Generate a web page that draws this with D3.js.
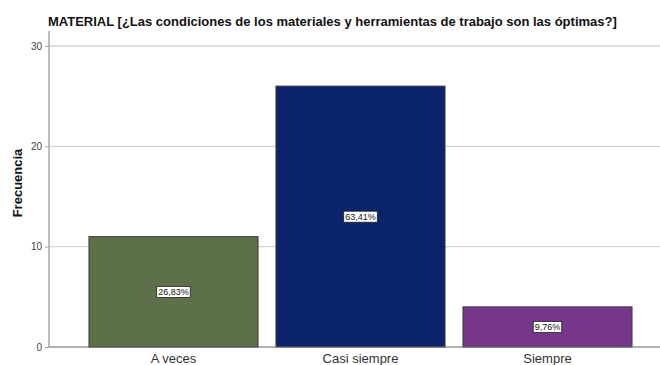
<!DOCTYPE html>
<html>
<head>
<meta charset="utf-8">
<script src="https://cdn.jsdelivr.net/npm/d3@7"></script>
<style>
  html, body { margin: 0; padding: 0; background: #fff; }
  svg { display: block; font-family: "Liberation Sans", Arial, sans-serif; }
</style>
</head>
<body>
<svg id="chart" width="660" height="365"></svg>
<script>
// Frequency table for the MATERIAL question
const categories = ["A veces", "Casi siempre", "Siempre"];
const frequencies = [11, 26, 4];
const percentLabels = ["26,83%", "63,41%", "9,76%"];
const barColors = ["#5e7049", "#0a236b", "#76378b"];
const yTicks = [0, 10, 20, 30];
const title = "MATERIAL [¿Las condiciones de los materiales y herramientas de trabajo son las óptimas?]";
const yTitle = "Frecuencia";

const svg = d3.select("#chart");
const axisX = 49, plotTop = 31, baseY = 347, plotRight = 660;

const y = d3.scaleLinear().domain([0, 30]).range([baseY, 46]);
const x = d3.scaleBand().domain(categories).range([80, 641])
  .paddingInner(0.096).paddingOuter(0.048);

// gridlines
svg.append("g").selectAll("line").data(yTicks.filter(t => t > 0)).join("line")
  .attr("x1", axisX).attr("x2", plotRight)
  .attr("y1", d => y(d)).attr("y2", d => y(d))
  .attr("stroke", "#d4d4d4").attr("stroke-width", 1.3);

// y axis with ticks
const yAxis = d3.axisLeft(y).tickValues(yTicks).tickSize(4).tickPadding(3);
const ya = svg.append("g").attr("transform", `translate(${axisX},0)`).call(yAxis);
ya.select(".domain").remove();
ya.selectAll(".tick line").attr("stroke", "#aaa");
ya.selectAll(".tick text").attr("fill", "#444").style("font-size", "10px")
  .style("font-family", "'Liberation Sans', Arial, sans-serif");
svg.append("line").attr("x1", axisX).attr("x2", axisX)
  .attr("y1", plotTop).attr("y2", baseY)
  .attr("stroke", "#a8a8a8").attr("stroke-width", 1.5);

// bars
const data = categories.map((c, i) => ({ c, v: frequencies[i], p: percentLabels[i], col: barColors[i] }));
svg.append("g").selectAll("rect").data(data).join("rect")
  .attr("x", d => x(d.c)).attr("width", x.bandwidth())
  .attr("y", d => y(d.v)).attr("height", d => y(0) - y(d.v))
  .attr("fill", d => d.col).attr("stroke", "#3a3a3a").attr("stroke-width", 1);

// baseline
svg.append("line").attr("x1", axisX).attr("x2", plotRight)
  .attr("y1", baseY).attr("y2", baseY)
  .attr("stroke", "#666").attr("stroke-width", 1.2);

// percent labels in boxes
const lab = svg.append("g").selectAll("g").data(data).join("g")
  .attr("transform", d => `translate(${x(d.c) + x.bandwidth() / 2},${(y(d.v) + y(0)) / 2})`);
lab.append("text").attr("text-anchor", "middle").attr("dy", "0.35em")
  .style("font-size", "9px").attr("fill", "#111").text(d => d.p)
  .each(function () {
    const b = this.getBBox();
    d3.select(this.parentNode).insert("rect", "text")
      .attr("x", b.x - 1.5).attr("y", b.y - 0.5)
      .attr("width", b.width + 3).attr("height", b.height + 1)
      .attr("fill", "#fff").attr("stroke", "#222").attr("stroke-width", 0.8);
  });

// category labels
svg.append("g").selectAll("text").data(categories).join("text")
  .attr("x", d => x(d) + x.bandwidth() / 2).attr("y", 363)
  .attr("text-anchor", "middle").attr("fill", "#333")
  .style("font-size", "13px").text(d => d);

// titles
svg.append("text").attr("x", 48).attr("y", 26)
  .style("font-size", "13px").style("font-weight", "bold").attr("fill", "#111")
  .text(title);
svg.append("text").attr("transform", `translate(22,183) rotate(-90)`)
  .attr("text-anchor", "middle").style("font-size", "13px").style("font-weight", "bold")
  .attr("fill", "#111").text(yTitle);
</script>
</body>
</html>
